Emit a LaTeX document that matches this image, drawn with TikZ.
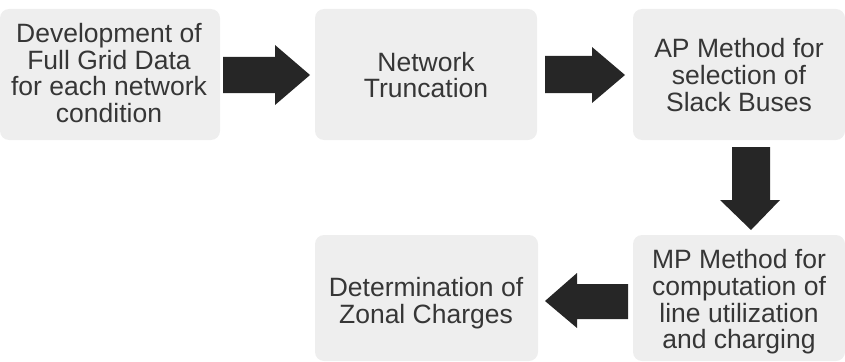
\documentclass[tikz,border=0pt]{standalone}
\usepackage{fontspec}
\setmainfont{Liberation Sans}
\definecolor{boxgray}{HTML}{EEEEEE}
\definecolor{txtgray}{HTML}{363636}
\definecolor{arrowdark}{HTML}{262626}
\begin{document}
\begin{tikzpicture}[x=1pt,y=-1pt,
  stepbox/.style={fill=boxgray,rounded corners=9pt},
  steptext/.style={align=center,text=txtgray,font=\fontsize{26.5}{26.7}\selectfont,inner sep=0pt},
  blockarrow/.style={fill=arrowdark,line join=round}]
\useasboundingbox (0,0) rectangle (845,361);
% boxes
\path[stepbox] (0,9) rectangle (220,140);
\path[stepbox] (315,9) rectangle (537,140);
\path[stepbox] (633,9) rectangle (845,140);
\path[stepbox] (633,235) rectangle (845,361);
\path[stepbox] (315,235) rectangle (538,361);
% texts
\node[steptext] (b1) at (109,73) {Development of\\Full Grid Data\\for each network\\condition};
\node[steptext] (b2) at (426,75) {Network\\Truncation};
\node[steptext] (b3) at (739,75) {AP Method for\\selection of\\Slack Buses};
\node[steptext] (b4) at (739,302) {MP Method for\\computation of\\line utilization\\and charging};
\node[steptext] (b5) at (426,303) {Determination of\\Zonal Charges};
% block arrows
\path[blockarrow] (223,57) -- (275,57) -- (275,45) -- (310,75) -- (275,105) -- (275,93) -- (223,93) -- cycle;
\path[blockarrow] (545,56) -- (592,56) -- (592,47) -- (625,75) -- (592,103) -- (592,93) -- (545,93) -- cycle;
\path[blockarrow] (732,147) -- (770,147) -- (770,200) -- (780,200) -- (751,230) -- (720,200) -- (732,200) -- cycle;
\path[blockarrow] (628,284) -- (577,284) -- (577,273) -- (545,301) -- (577,328) -- (577,319) -- (628,319) -- cycle;
\end{tikzpicture}
\end{document}
